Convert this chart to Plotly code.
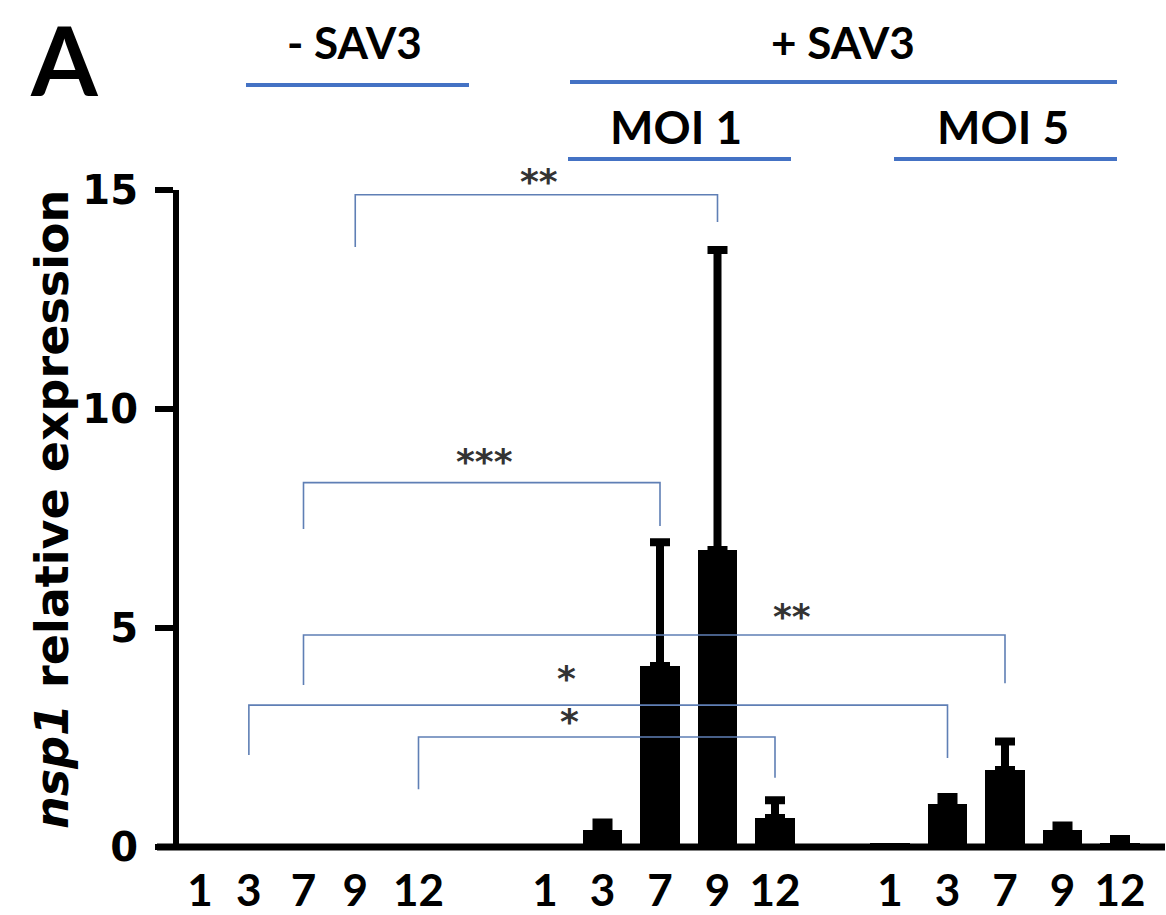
import plotly.graph_objects as go

# ---------------- data ----------------
time_labels = ["1", "3", "7", "9", "12"]
neg_mean = [0.0, 0.0, 0.0, 0.0, 0.0]
neg_sd = [0.0, 0.0, 0.0, 0.0, 0.0]
moi1_mean = [0.0, 0.39, 4.13, 6.78, 0.66]
moi1_sd = [0.0, 0.17, 2.83, 6.85, 0.41]
moi5_mean = [0.1, 0.98, 1.76, 0.39, 0.10]
moi5_sd = [0.0, 0.16, 0.65, 0.10, 0.08]
y_ticks = [0, 5, 10, 15]

# significance brackets: left (group, index), right (group, index), bar height, left leg end, right leg end, label
bracket_left = [("neg", 3), ("neg", 2), ("neg", 2), ("neg", 1), ("neg", 4)]
bracket_right = [("moi1", 3), ("moi1", 2), ("moi5", 2), ("moi5", 1), ("moi1", 4)]
bracket_y = [14.89, 8.32, 4.84, 3.24, 2.51]
bracket_left_end = [13.7, 7.26, 3.7, 2.1, 1.32]
bracket_right_end = [14.27, 7.33, 3.74, 2.03, 1.58]
bracket_text = ["**", "***", "**", "*", "*"]
bracket_text_y = [15.2, 8.8, 5.27, 3.85, 2.86]

# ---------------- layout helpers ----------------
W, H = 1166, 915
L, R, T, B = 179, 1, 190, 68
PW, PH = W - L - R, H - T - B
Y_MAX = 15

group_start = {"neg": 0, "moi1": 6, "moi5": 12}
group_offsets = {"neg": [0, 0.85, 1.8, 2.7, 3.8], "moi1": [0, 1, 2, 3, 4], "moi5": [0, 1, 2, 3, 4]}
bracket_text_x = [5.9, 4.95, 10.3, 6.38, 6.42]


def pos(group, i):
    return group_start[group] + group_offsets[group][i]


def px(x):
    return (x - L) / PW


def py(y):
    return (H - B - y) / PH


xs, ys = [], []
ex, ey, ee = [], [], []
for g, m, s in (("neg", neg_mean, neg_sd), ("moi1", moi1_mean, moi1_sd), ("moi5", moi5_mean, moi5_sd)):
    for i in range(5):
        xs.append(pos(g, i))
        ys.append(m[i])
        if s[i] > 0:
            ex.append(pos(g, i))
            ey.append(m[i])
            ee.append(s[i])

fig = go.Figure()
fig.add_trace(go.Bar(
    x=xs, y=ys, width=0.68,
    marker=dict(color="black", line=dict(width=0)),
    showlegend=False, hoverinfo="skip",
))
fig.add_trace(go.Scatter(
    x=ex, y=ey, mode="markers",
    marker=dict(size=1, color="rgba(0,0,0,0)"),
    error_y=dict(type="data", array=ee, arrayminus=[0] * len(ee), symmetric=False,
                 color="black", thickness=8, width=10, visible=True),
    showlegend=False, hoverinfo="skip",
))

blue = "#5f7fb5"
for k in range(len(bracket_y)):
    xl = pos(*bracket_left[k])
    xr = pos(*bracket_right[k])
    fig.add_trace(go.Scatter(
        x=[xl, xl, xr, xr],
        y=[bracket_left_end[k], bracket_y[k], bracket_y[k], bracket_right_end[k]],
        mode="lines", line=dict(color=blue, width=1.6),
        showlegend=False, hoverinfo="skip",
    ))
    fig.add_annotation(x=bracket_text_x[k], y=bracket_text_y[k] / Y_MAX, xref="x", yref="paper",
                       text=bracket_text[k], showarrow=False, xanchor="center", yanchor="middle",
                       font=dict(family="DejaVu Sans", size=36, color="#333333", weight="bold"))

tickvals = [pos(g, i) for g in ("neg", "moi1", "moi5") for i in range(5)]
ticktext = time_labels * 3

fig.update_layout(
    width=W, height=H, margin=dict(l=L, r=R, t=T, b=B, pad=0),
    paper_bgcolor="white", plot_bgcolor="white",
    bargap=0,
    xaxis=dict(range=[(L - 200) / 57.5, (W - R - 200) / 57.5], tickmode="array",
               tickvals=tickvals, ticktext=ticktext, ticks="", showline=False,
               showgrid=False, zeroline=False, ticklabelstandoff=14,
               tickfont=dict(family="Lato", size=44, color="black", weight="bold")),
    yaxis=dict(range=[0, Y_MAX], tickmode="array", tickvals=y_ticks, ticks="outside",
               ticklen=18, tickwidth=6, tickcolor="black", showline=True, linewidth=6,
               linecolor="black", showgrid=False, zeroline=False, ticklabelstandoff=9,
               tickfont=dict(family="DejaVu Sans", size=40, color="black", weight="bold")),
)

# x axis base line extending left of the y axis
fig.add_shape(type="line", xref="paper", yref="paper", x0=px(157), x1=px(1165), y0=py(847), y1=py(847),
              line=dict(color="black", width=7))

# header group lines
hdr = "#4472c4"
for x0, x1, yy in ((246, 469, 85), (570, 1117, 82), (568, 791, 159), (894, 1117, 159)):
    fig.add_shape(type="line", xref="paper", yref="paper", x0=px(x0), x1=px(x1), y0=py(yy), y1=py(yy),
                  line=dict(color=hdr, width=4))

for txt, x, yy, size in (("- SAV3", 354, 42, 44), ("+ SAV3", 843, 42, 44),
                         ("MOI 1", 676, 126, 46), ("MOI 5", 1003, 126, 46)):
    fig.add_annotation(x=px(x), y=py(yy), xref="paper", yref="paper", text=txt, showarrow=False,
                       xanchor="center", yanchor="middle",
                       font=dict(family="Lato", size=size, color="black", weight="bold"))

fig.add_annotation(x=px(64), y=py(58), xref="paper", yref="paper", text="A", showarrow=False,
                   xanchor="center", yanchor="middle",
                   font=dict(family="Lato", size=96, color="black", weight="bold"))

fig.add_annotation(x=px(52), y=py(510), xref="paper", yref="paper",
                   text="<i>nsp1</i> relative expression", showarrow=False, textangle=-90,
                   xanchor="center", yanchor="middle",
                   font=dict(family="DejaVu Sans", size=46, color="black", weight="bold"))

fig.write_html("out.html")
